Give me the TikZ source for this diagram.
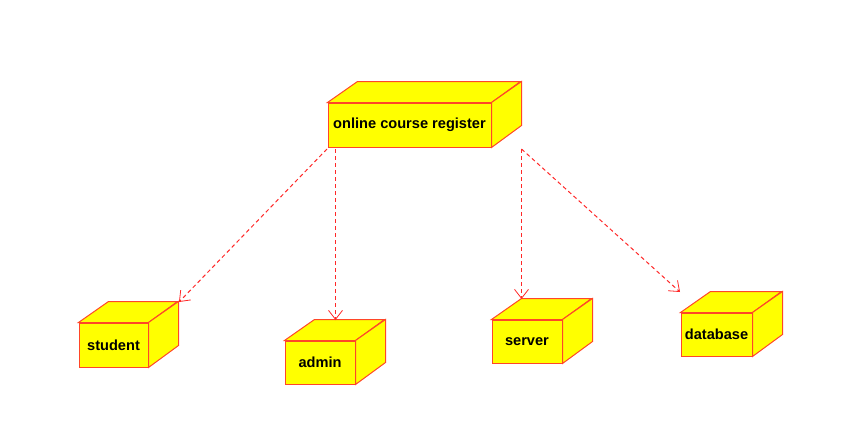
\documentclass[tikz,border=0pt]{standalone}
\usepackage{fontspec}
\setmainfont{Liberation Sans}
\usetikzlibrary{arrows.meta,calc}
\definecolor{boxred}{RGB}{255,70,40}
\definecolor{linkred}{RGB}{255,40,40}
\definecolor{boxyellow}{RGB}{255,255,0}
\tikzset{
  cube/.style={draw=boxred, fill=boxyellow, line width=1pt, inner sep=0pt,
    font=\fontsize{14.6}{17}\selectfont\bfseries, text=black},
  cubeside/.style={draw=boxred, fill=boxyellow, line width=1pt, line join=miter},
  dep/.style={draw=linkred, line width=1pt, dash pattern=on 4pt off 3pt,
    -{Straight Barb[length=9pt,width=14pt,line width=0.8pt]}}
}
\newcommand{\mycube}[6]{%
  \node[cube, minimum width=#4pt, minimum height=#5pt] (#1) at (#2,#3) {#6};
  \filldraw[cubeside] (#1.north west) -- ++(30,-21) -- ++(#4,0) -- (#1.north east) -- cycle;
  \filldraw[cubeside] (#1.north east) -- ++(30,-21) -- ++(0,#5) -- (#1.south east) -- cycle;
}
\begin{document}
\begin{tikzpicture}[x=1pt,y=-1pt]
\useasboundingbox (0,0) rectangle (852,437);
\mycube{top}{409.5}{125}{163}{44}{online course register}
\mycube{student}{113.5}{345}{69}{44}{student}
\mycube{admin}{320}{362.5}{70}{43}{admin}
\mycube{server}{527}{341.5}{70}{43}{server}
\mycube{database}{716.5}{334.5}{71}{43}{database}
\coordinate (s1) at (327,149);
\coordinate (s2) at (335.5,149);
\coordinate (s3) at (521.5,149);
\coordinate (t1) at (179,302);
\coordinate (t2) at (335.5,320);
\coordinate (t3) at (521.5,299);
\coordinate (t4) at (680,292);
\draw[dep] (s1) -- (t1);
\draw[dep] (s2) -- (t2);
\draw[dep] (s3) -- (t3);
\draw[dep] (s3) -- (t4);
\end{tikzpicture}
\end{document}
